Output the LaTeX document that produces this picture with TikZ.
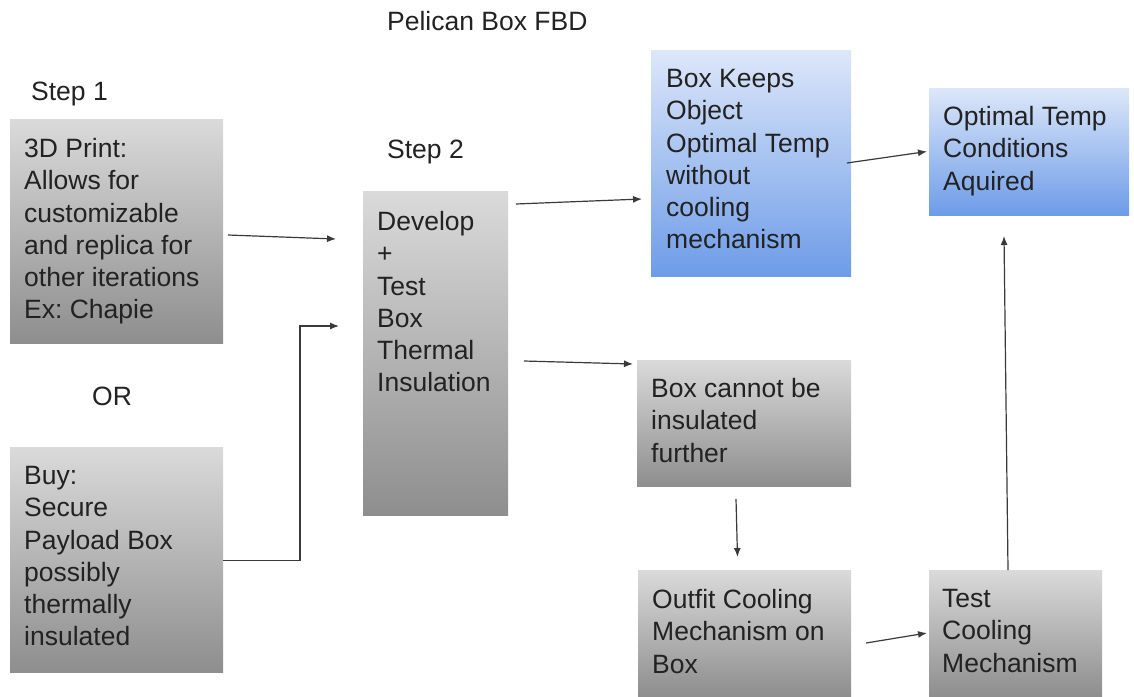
\documentclass[tikz,border=0pt]{standalone}
\usepackage{fontspec}
\setmainfont{Liberation Sans}
\frenchspacing
\usetikzlibrary{arrows.meta,calc}
\definecolor{gtop}{HTML}{DADADA}
\definecolor{gbot}{HTML}{8E8E8E}
\definecolor{btop}{HTML}{DDE7F9}
\definecolor{bbot}{HTML}{6D9CE8}
\definecolor{txtc}{HTML}{222222}
\definecolor{linec}{HTML}{3A3A3A}
\tikzset{
  base/.style={rectangle, inner sep=0pt, outer sep=0pt, draw=none},
  graybox/.style={base, top color=gtop, bottom color=gbot},
  bluebox/.style={base, top color=btop, bottom color=bbot},
  txt/.style={anchor=north west, inner sep=0pt, align=left, text=txtc,
    font={\fontsize{26.5}{32.3}\selectfont}},
  lbl/.style={anchor=base west, inner sep=0pt, text=txtc,
    font={\fontsize{26.5}{32.3}\selectfont}},
  arr/.style={draw=linec, line width=1.2pt, -{Latex[length=9pt,width=7pt]}}
}
\begin{document}
\begin{tikzpicture}[x=1pt,y=-1pt]
\useasboundingbox (0,0) rectangle (1134,696);
% boxes
\node[graybox, anchor=north west, minimum width=213pt, minimum height=224pt] (A) at (10,119) {};
\node[graybox, anchor=north west, minimum width=213pt, minimum height=225pt] (B) at (10,447) {};
\node[graybox, anchor=north west, minimum width=145pt, minimum height=324pt] (C) at (363,191) {};
\node[bluebox, anchor=north west, minimum width=200pt, minimum height=226pt] (D) at (651,50) {};
\node[bluebox, anchor=north west, minimum width=200pt, minimum height=127pt] (E) at (929,88) {};
\node[graybox, anchor=north west, minimum width=214pt, minimum height=126pt] (F) at (637,360) {};
\node[graybox, anchor=north west, minimum width=213pt, minimum height=126pt] (G) at (638,570) {};
\node[graybox, anchor=north west, minimum width=173pt, minimum height=126pt] (H) at (929,570) {};
% texts in boxes
\node[txt] (At) at ($(A.north west)+(14,19)$) {3D Print:\\Allows for\\customizable\\and replica for\\other iterations\\Ex: Chapie};
\node[txt] (Bt) at ($(B.north west)+(14,19)$) {Buy:\\Secure\\Payload Box\\possibly\\thermally\\insulated};
\node[txt] (Ct) at ($(C.north west)+(14,20)$) {Develop\\+\\Test\\Box\\Thermal\\Insulation};
\node[txt] (Dt) at ($(D.north west)+(15,19)$) {Box Keeps\\Object\\Optimal Temp\\without\\cooling\\mechanism};
\node[txt] (Et) at ($(E.north west)+(14,18)$) {Optimal Temp\\Conditions\\Aquired};
\node[txt] (Ft) at ($(F.north west)+(14,18)$) {Box cannot be\\insulated\\further};
\node[txt] (Gt) at ($(G.north west)+(14,19)$) {Outfit Cooling\\Mechanism on\\Box};
\node[txt] (Ht) at ($(H.north west)+(13,19)$) {Test\\Cooling\\Mechanism};
% free labels
\node[lbl] (title) at (387,30) {Pelican Box FBD};
\node[lbl] (s1) at (31,100) {Step 1};
\node[lbl] (s2) at (387,158) {Step 2};
\node[lbl] (or) at (92,405) {OR};
% connectors
\draw[arr] ([xshift=5pt,yshift=-4pt]A.east) -- ([xshift=-27pt,yshift=114pt]C.west);
\draw[arr] ([yshift=-1pt]B.east) -- ++(77,0) |- ([xshift=-24pt,yshift=27pt]C.west);
\draw[arr] ([xshift=8pt,yshift=149pt]C.east) -- ([xshift=-9pt,yshift=-36pt]D.west);
\draw[arr] ([xshift=16pt,yshift=-8pt]C.east) -- ([xshift=-4pt,yshift=59pt]F.west);
\draw[arr] ([xshift=-4pt]D.east) -- ([xshift=-2pt]E.west);
\draw[arr] ([xshift=-8pt,yshift=-13pt]F.south) -- ([xshift=-7pt,yshift=13pt]G.north);
\draw[arr] ([xshift=15pt,yshift=-10pt]G.east) -- ([xshift=-2pt]H.west);
\draw[arr] ([xshift=-7.5pt]H.north) -- ([xshift=-25pt,yshift=-21pt]E.south);
\end{tikzpicture}
\end{document}
